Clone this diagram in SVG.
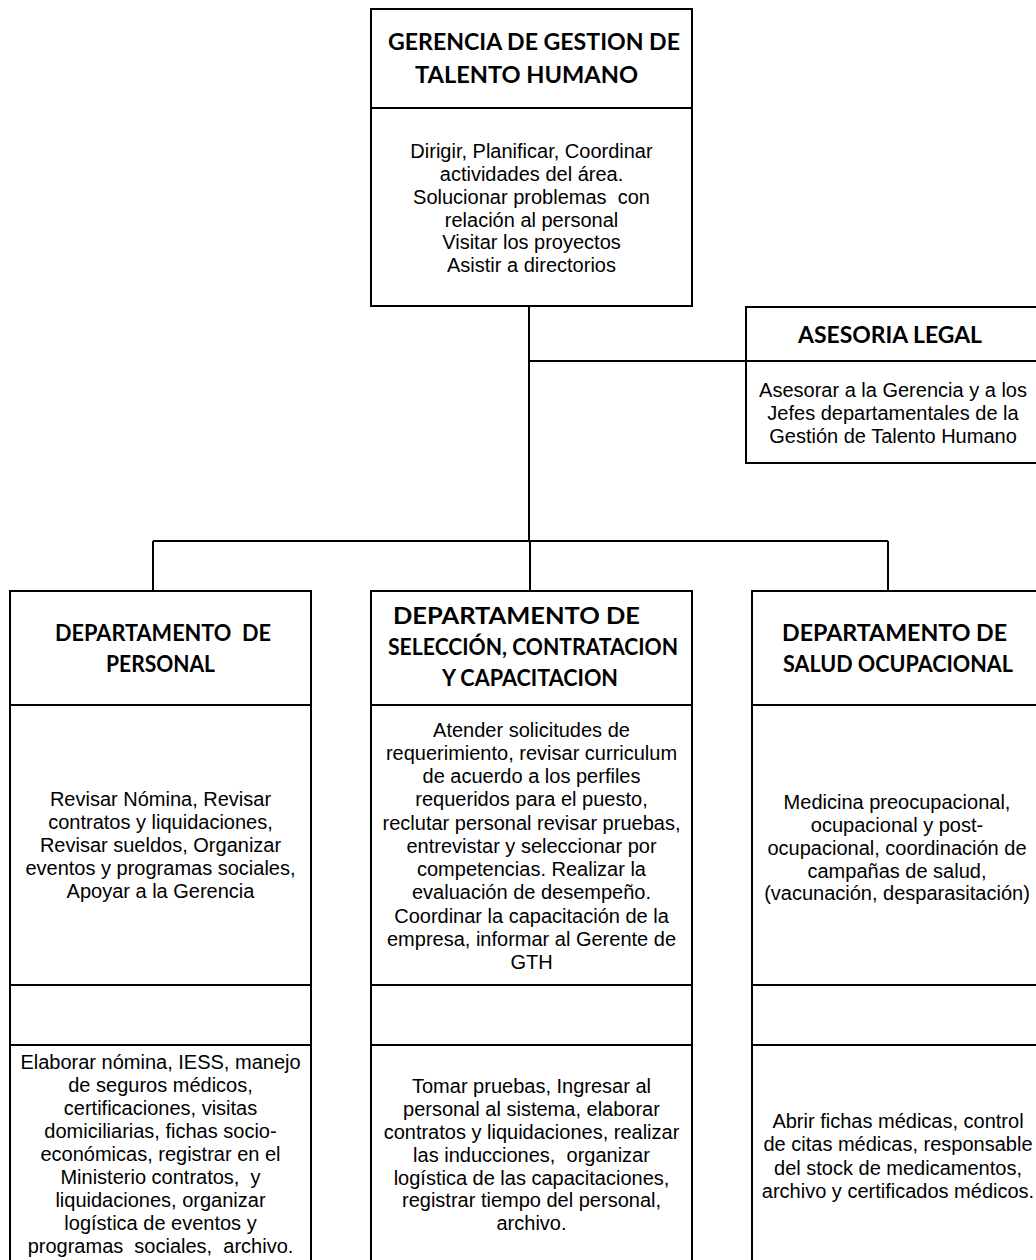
<svg xmlns="http://www.w3.org/2000/svg" width="1036" height="1260" viewBox="0 0 1036 1260">
  <style>
    .box { fill: #ffffff; stroke: #000000; stroke-width: 2; }
    .div { stroke: #000000; stroke-width: 2; fill: none; }
    .conn { stroke: #000000; stroke-width: 2; fill: none; }
    .hd { font-family: Lato, "Open Sans", "Liberation Sans", sans-serif; font-weight: 700; font-size: 22px; fill: #000000; white-space: pre; }
    .tx { font-family: "Liberation Sans", Arial, sans-serif; font-size: 20px; fill: #000000; text-anchor: middle; white-space: pre; }
  </style>
  <rect x="0" y="0" width="1036" height="1260" fill="#ffffff"/>

  <!-- connectors -->
  <g id="connectors">
    <path class="conn" d="M529 306 V541"/>
    <path class="conn" d="M529 361 H746"/>
    <path class="conn" d="M153 541 H888"/>
    <path class="conn" d="M153 541 V591"/>
    <path class="conn" d="M530 541 V591"/>
    <path class="conn" d="M888 541 V591"/>
  </g>

  <!-- top management -->
  <g id="gerencia">
    <rect class="box" x="371" y="9" width="321" height="297"/>
    <line class="div" x1="371" y1="108" x2="692" y2="108"/>
    <text class="hd" x="388" y="50" textLength="292" lengthAdjust="spacingAndGlyphs">GERENCIA DE GESTION DE</text>
    <text class="hd" x="415" y="83" textLength="223" lengthAdjust="spacingAndGlyphs">TALENTO HUMANO</text>
    <text class="tx" x="531.5" y="158">Dirigir, Planificar, Coordinar</text>
    <text class="tx" x="531.5" y="181">actividades del área.</text>
    <text class="tx" x="531.5" y="203.5">Solucionar problemas  con</text>
    <text class="tx" x="531.5" y="226.5">relación al personal</text>
    <text class="tx" x="531.5" y="249">Visitar los proyectos</text>
    <text class="tx" x="531.5" y="272">Asistir a directorios</text>
  </g>

  <!-- legal advisory -->
  <g id="asesoria">
    <rect class="box" x="746" y="307" width="294" height="156"/>
    <line class="div" x1="746" y1="361" x2="1040" y2="361"/>
    <text class="hd" x="798" y="343" textLength="184" lengthAdjust="spacingAndGlyphs">ASESORIA LEGAL</text>
    <text class="tx" x="893" y="397">Asesorar a la Gerencia y a los</text>
    <text class="tx" x="893" y="420">Jefes departamentales de la</text>
    <text class="tx" x="893" y="443">Gestión de Talento Humano</text>
  </g>

  <!-- personnel department -->
  <g id="dep-personal">
    <rect class="box" x="10" y="591" width="301" height="700"/>
    <line class="div" x1="10" y1="705" x2="311" y2="705"/>
    <line class="div" x1="10" y1="985" x2="311" y2="985"/>
    <line class="div" x1="10" y1="1045" x2="311" y2="1045"/>
    <text class="hd" x="55" y="641" textLength="216" lengthAdjust="spacingAndGlyphs">DEPARTAMENTO  DE</text>
    <text class="hd" x="106" y="672" textLength="109" lengthAdjust="spacingAndGlyphs">PERSONAL</text>
    <text class="tx" x="160.5" y="806">Revisar Nómina, Revisar</text>
    <text class="tx" x="160.5" y="829">contratos y liquidaciones,</text>
    <text class="tx" x="160.5" y="852">Revisar sueldos, Organizar</text>
    <text class="tx" x="160.5" y="875">eventos y programas sociales,</text>
    <text class="tx" x="160.5" y="898">Apoyar a la Gerencia</text>
    <text class="tx" x="160.5" y="1069">Elaborar nómina, IESS, manejo</text>
    <text class="tx" x="160.5" y="1092">de seguros médicos,</text>
    <text class="tx" x="160.5" y="1115">certificaciones, visitas</text>
    <text class="tx" x="160.5" y="1138">domiciliarias, fichas socio-</text>
    <text class="tx" x="160.5" y="1161">económicas, registrar en el</text>
    <text class="tx" x="160.5" y="1184">Ministerio contratos,  y</text>
    <text class="tx" x="160.5" y="1207">liquidaciones, organizar</text>
    <text class="tx" x="160.5" y="1230">logística de eventos y</text>
    <text class="tx" x="160.5" y="1253">programas  sociales,  archivo.</text>
  </g>

  <!-- selection, hiring and training department -->
  <g id="dep-seleccion">
    <rect class="box" x="371" y="591" width="321" height="700"/>
    <line class="div" x1="371" y1="705" x2="692" y2="705"/>
    <line class="div" x1="371" y1="985" x2="692" y2="985"/>
    <line class="div" x1="371" y1="1045" x2="692" y2="1045"/>
    <text class="hd" x="393" y="624" textLength="247" lengthAdjust="spacingAndGlyphs">DEPARTAMENTO DE</text>
    <text class="hd" x="388" y="655" textLength="290" lengthAdjust="spacingAndGlyphs">SELECCIÓN, CONTRATACION</text>
    <text class="hd" x="442" y="686" textLength="176" lengthAdjust="spacingAndGlyphs">Y CAPACITACION</text>
    <text class="tx" x="531.5" y="736.5">Atender solicitudes de</text>
    <text class="tx" x="531.5" y="759.8">requerimiento, revisar curriculum</text>
    <text class="tx" x="531.5" y="783">de acuerdo a los perfiles</text>
    <text class="tx" x="531.5" y="806.3">requeridos para el puesto,</text>
    <text class="tx" x="531.5" y="829.5">reclutar personal revisar pruebas,</text>
    <text class="tx" x="531.5" y="852.8">entrevistar y seleccionar por</text>
    <text class="tx" x="531.5" y="876">competencias. Realizar la</text>
    <text class="tx" x="531.5" y="899.3">evaluación de desempeño.</text>
    <text class="tx" x="531.5" y="922.5">Coordinar la capacitación de la</text>
    <text class="tx" x="531.5" y="945.8">empresa, informar al Gerente de</text>
    <text class="tx" x="531.5" y="969">GTH</text>
    <text class="tx" x="531.5" y="1093">Tomar pruebas, Ingresar al</text>
    <text class="tx" x="531.5" y="1116">personal al sistema, elaborar</text>
    <text class="tx" x="531.5" y="1139">contratos y liquidaciones, realizar</text>
    <text class="tx" x="531.5" y="1161.5">las inducciones,  organizar</text>
    <text class="tx" x="531.5" y="1184.5">logística de las capacitaciones,</text>
    <text class="tx" x="531.5" y="1207">registrar tiempo del personal,</text>
    <text class="tx" x="531.5" y="1230">archivo.</text>
  </g>

  <!-- occupational health department -->
  <g id="dep-salud">
    <rect class="box" x="752" y="591" width="290" height="700"/>
    <line class="div" x1="752" y1="705" x2="1042" y2="705"/>
    <line class="div" x1="752" y1="985" x2="1042" y2="985"/>
    <line class="div" x1="752" y1="1045" x2="1042" y2="1045"/>
    <text class="hd" x="782" y="641" textLength="225" lengthAdjust="spacingAndGlyphs">DEPARTAMENTO DE</text>
    <text class="hd" x="783" y="671.5" textLength="230" lengthAdjust="spacingAndGlyphs">SALUD OCUPACIONAL</text>
    <text class="tx" x="897" y="809">Medicina preocupacional,</text>
    <text class="tx" x="897" y="832">ocupacional y post-</text>
    <text class="tx" x="897" y="855">ocupacional, coordinación de</text>
    <text class="tx" x="897" y="878">campañas de salud,</text>
    <text class="tx" x="897" y="900">(vacunación, desparasitación)</text>
    <text class="tx" x="898" y="1128">Abrir fichas médicas, control</text>
    <text class="tx" x="898" y="1151">de citas médicas, responsable</text>
    <text class="tx" x="898" y="1175">del stock de medicamentos,</text>
    <text class="tx" x="898" y="1198">archivo y certificados médicos.</text>
  </g>
</svg>
